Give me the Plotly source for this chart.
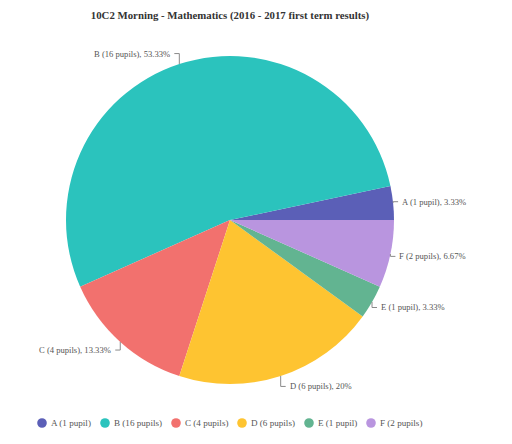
import math
import plotly.graph_objects as go

# Grade distribution for the class
grades = ["A", "B", "C", "D", "E", "F"]
pupils = [1, 16, 4, 6, 1, 2]
colors = ["#5b5fb7", "#2bc3bd", "#f2716e", "#fec431", "#62b491", "#b995df"]
title_text = "10C2 Morning - Mathematics (2016 - 2017 first term results)"

W, H = 512, 444
FONT = "Liberation Serif"

total = sum(pupils)


def pupil_word(n):
    return "pupil" if n == 1 else "pupils"


def pct_text(v):
    s = f"{100 * v / total:.2f}".rstrip("0").rstrip(".")
    return s + "%"


names = [f"{g} ({n} {pupil_word(n)})" for g, n in zip(grades, pupils)]
labels = [f"{nm}, {pct_text(v)}" for nm, v in zip(names, pupils)]

# pie placement in pixels
cx, cy, R = 230, 220, 164


def px(x):
    return x / W


def py(y):
    return 1 - y / H


# first slice begins at 3 o'clock and the slices run counterclockwise
first_span = 360 * pupils[0] / total

fig = go.Figure()
fig.add_trace(go.Pie(
    labels=names,
    values=pupils,
    sort=False,
    direction="counterclockwise",
    rotation=90 - first_span,
    marker=dict(colors=colors, line=dict(width=0)),
    textinfo="none",
    hoverinfo="label+percent",
    showlegend=False,
    domain=dict(x=[px(cx - R), px(cx + R)], y=[py(cy + R), py(cy - R)]),
))

shapes = []
annotations = []

# outside labels: short leader that drops/rises from the rim, then a tick
# sideways towards the text
RISE, TICK, GAP = 11, 5, 3
cum = 0
for v, lab in zip(pupils, labels):
    mid = 2 * math.pi * (cum + v / 2) / total
    cum += v
    c, s = math.cos(mid), math.sin(mid)
    ex, ey = cx + R * c, cy - R * s
    ly = cy - (R + RISE) * s
    side = 1 if c >= 0 else -1
    tx = ex + side * TICK
    shapes.append(dict(
        type="path", xref="paper", yref="paper",
        path=f"M {px(ex)} {py(ey)} L {px(ex)} {py(ly)} L {px(tx)} {py(ly)}",
        line=dict(color="#8a8a8a", width=1),
    ))
    annotations.append(dict(
        x=px(tx + side * GAP), y=py(ly), xref="paper", yref="paper",
        text=lab, showarrow=False,
        xanchor="left" if side > 0 else "right", yanchor="middle",
        xshift=0, borderpad=0,
        font=dict(family=FONT, size=8.6, color="#555555"),
    ))

# legend row along the bottom
legend_x = [42, 105, 176, 242, 309, 371]
legend_y = 423
for x, nm, col in zip(legend_x, names, colors):
    shapes.append(dict(
        type="circle", xref="paper", yref="paper",
        xsizemode="pixel", ysizemode="pixel",
        xanchor=px(x), yanchor=py(legend_y),
        x0=-4.8, x1=4.8, y0=-4.8, y1=4.8,
        fillcolor=col, line=dict(width=0),
    ))
    annotations.append(dict(
        x=px(x + 8), y=py(legend_y), xref="paper", yref="paper",
        text=nm, showarrow=False, xanchor="left", yanchor="middle",
        borderpad=0,
        font=dict(family=FONT, size=9.1, color="#555555"),
    ))

fig.update_layout(
    width=W, height=H,
    margin=dict(l=0, r=0, t=0, b=0),
    font=dict(family=FONT),
    paper_bgcolor="white", plot_bgcolor="white",
    title=dict(
        text=f"<b>{title_text}</b>", x=px(230), xanchor="center",
        y=py(15), yanchor="middle",
        font=dict(family=FONT, size=10.8, color="#333333"),
    ),
    shapes=shapes,
    annotations=annotations,
)

fig.write_html("out.html")
